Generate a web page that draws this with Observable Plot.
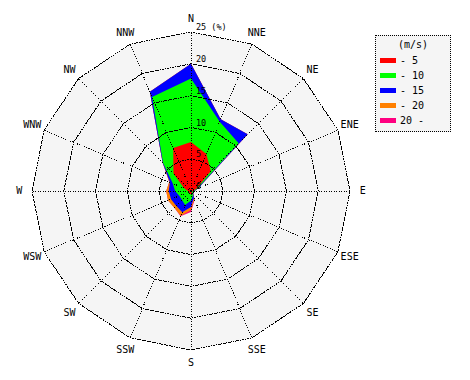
<!DOCTYPE html>
<html>
<head>
<meta charset="utf-8">
<script src="https://cdn.jsdelivr.net/npm/d3@7"></script>
<script src="https://cdn.jsdelivr.net/npm/@observablehq/plot@0.6"></script>
<style>
  body { margin: 0; background: #fff; font-family: "DejaVu Sans Mono", monospace; }
  #wrap { position: relative; width: 470px; height: 380px; }
  #legend { position: absolute; left: 375px; top: 35px; width: 74px; height: 95px;
            border: 1px dotted #000; background: #f5f5f5; font-size: 10px; color: #000; }
  #legend .title { position: absolute; left: 0; width: 74px; top: 3px; text-align: center; }
  #legend .row { position: absolute; left: 4px; height: 12px; line-height: 12px; white-space: pre; }
  #legend .sw { display: inline-block; width: 16px; height: 5px; vertical-align: middle; margin-right: 4px; position: relative; top: -1px; }
</style>
</head>
<body>
<div id="wrap"><div id="chart"></div><div id="legend"></div></div>
<script>
// ---- data (percent frequency per direction and wind-speed class) ----
const directions = ["N","NNE","NE","ENE","E","ESE","SE","SSE","S","SSW","SW","WSW","W","WNW","NW","NNW"];
const speedClasses = ["- 5", "- 10", "- 15", "- 20", "20 -"];
const classColors = ["#ff0000", "#00ff00", "#0000ff", "#ff8000", "#ff0080"];
// frequency (%) of each class, by direction (same order as directions)
const upTo5   = [7.7, 6.3, 4.4, 0.9, 0.3, 0.2, 0.2, 0.3, 0.5, 0.5, 0.4, 0.3, 0.5, 1.2, 3.9, 7.3];
const upTo10  = [10.0, 5.5, 6.2, 0.2, 0.2, 0.1, 0.2, 0.5, 1.0, 1.9, 1.6, 1.7, 2.0, 1.9, 2.3, 8.7];
const upTo15  = [2.3, 0.4, 2.0, 0.2, 0.1, 0.1, 0.1, 0.4, 1.0, 1.2, 1.3, 1.4, 1.0, 0.5, 0.1, 0.9];
const upTo20  = [0.0, 0.0, 0.0, 0.0, 0.0, 0.0, 0.0, 0.2, 0.5, 0.6, 0.4, 0.5, 0.4, 0.1, 0.0, 0.0];
const over20  = [0.0, 0.0, 0.0, 0.0, 0.0, 0.0, 0.0, 0.1, 0.3, 0.1, 0.0, 0.0, 0.0, 0.0, 0.0, 0.0];
const ringTicks = [0, 5, 10, 15, 20, 25];
const ringLabels = ["0", "5", "10", "15", "20", "25 (%)"];
const legendTitle = "(m/s)";

// ---- build tables ----
const classSeries = [upTo5, upTo10, upTo15, upTo20, over20];
const maxR = 25;
const W = 470, H = 380, cx = 190.5, cy = 190.5, K = 159 / maxR;
const ang = i => i * Math.PI / 8;
const cumul = directions.map((d, i) => { let s = 0; return classSeries.map(a => (s += a[i])); });

const polys = speedClasses.map((c, k) => directions.map((d, i) => ({
  cls: c, x: cumul[i][k] * Math.sin(ang(i)), y: cumul[i][k] * Math.cos(ang(i))
})));
const ringPts = ringTicks.filter(t => t > 0).flatMap(r => directions.map((d, i) => ({
  r, x: r * Math.sin(ang(i)), y: r * Math.cos(ang(i))
})));
const outerPts = directions.map((d, i) => ({ x: maxR * Math.sin(ang(i)), y: maxR * Math.cos(ang(i)) }));
const labelR = 27;

const marks = [
  Plot.line(outerPts, { x: "x", y: "y", curve: "linear-closed", fill: "#f5f5f5", stroke: "none" })
];
for (let k = speedClasses.length - 1; k >= 0; k--) {
  marks.push(Plot.line(polys[k], { x: "x", y: "y", curve: "linear-closed", fill: classColors[k], stroke: "none" }));
}
marks.push(
  Plot.line(ringPts, { x: "x", y: "y", z: "r", curve: "linear-closed", stroke: "#000", strokeWidth: 1,
    strokeDasharray: "1,1.5", shapeRendering: "crispEdges" }),
  Plot.link(directions, { x1: 0, y1: 0, x2: (d, i) => maxR * Math.sin(ang(i)), y2: (d, i) => maxR * Math.cos(ang(i)),
    stroke: "#000", strokeWidth: 1, strokeDasharray: "1,1.5", shapeRendering: "crispEdges" }),
  Plot.text(directions, { x: (d, i) => labelR * Math.sin(ang(i)), y: (d, i) => labelR * Math.cos(ang(i)),
    text: d => d, fontSize: 10, fill: "#000", textAnchor: "middle", lineAnchor: "middle" }),
  Plot.text(ringTicks, { x: 0, y: d => d, text: (d, i) => ringLabels[i], dx: 5, dy: -4.5,
    fontSize: 8.5, fill: "#000", textAnchor: "start", lineAnchor: "middle" })
);

const chart = Plot.plot({
  width: W, height: H, margin: 0,
  style: { fontFamily: "DejaVu Sans Mono, monospace", background: "#fff", overflow: "visible" },
  x: { domain: [-cx / K, (W - cx) / K], axis: null },
  y: { domain: [-(H - cy) / K, cy / K], axis: null },
  marks
});
document.getElementById("chart").appendChild(chart);

// ---- legend ----
const lg = document.getElementById("legend");
const t = document.createElement("div"); t.className = "title"; t.textContent = legendTitle; lg.appendChild(t);
speedClasses.forEach((c, k) => {
  const row = document.createElement("div"); row.className = "row";
  row.style.top = (19 + k * 15) + "px";
  const sw = document.createElement("span"); sw.className = "sw"; sw.style.background = classColors[k];
  row.appendChild(sw);
  row.appendChild(document.createTextNode(c));
  lg.appendChild(row);
});
</script>
</body>
</html>
